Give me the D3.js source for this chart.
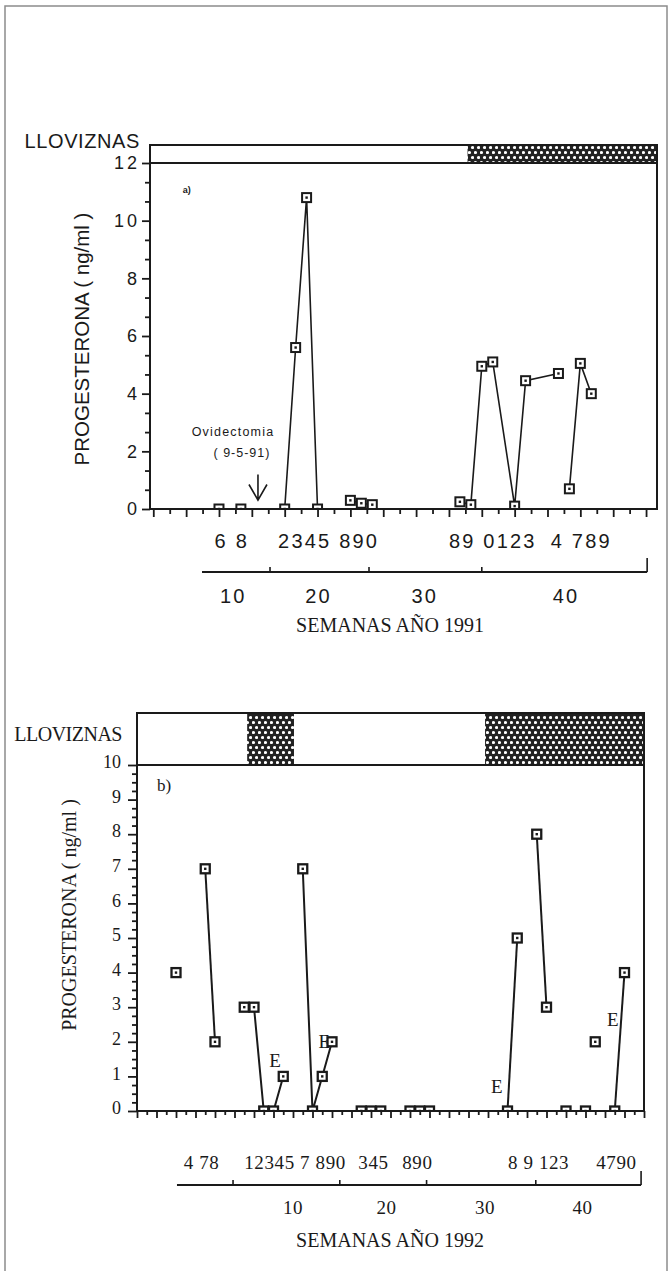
<!DOCTYPE html>
<html lang="es">
<head>
  <meta charset="UTF-8">
  <title>Progesterona 1991 - 1992</title>
  <script src="https://d3js.org/d3.v7.min.js"></script>
  <style>
    html, body {
      margin: 0;
      padding: 0;
      background: #fff;
      overflow: hidden;
    }
    svg {
      display: block;
    }
  </style>
</head>
<body>

<svg id="chart" width="670" height="1271"></svg>

<script>
  // ---- a) 1991 ----
  const weeksA = [16, 18, 22, 23, 24, 25, 28, 29, 30, 38, 39, 40, 41, 43, 44, 47, 48, 49, 50];
  const valuesA = [0, 0, 0, 5.6, 10.8, 0, 0.3, 0.2, 0.15, 0.25, 0.15, 4.95, 5.1, 0.1, 4.45, 4.7, 0.7, 5.05, 4.0];
  const groupsA = [1, 2, 3, 3, 3, 3, 4, 4, 4, 5, 5, 5, 5, 5, 5, 5, 6, 6, 6];
  const rainA = [[38.7, 56]];
  const yTicksA = [0, 2, 4, 6, 8, 10, 12];
  const weekLabelsA = ["6 8", "2345 890", "89 0123", "4 789"];
  const weekLabelPosA = [15.6, 21.4, 37.0, 46.3];
  const decadeBoundsA = [14.45, 20.66, 29.7, 40.0, 55.1];
  const decadeLabelsA = ["10", "20", "30", "40"];
  const decadePosA = [17.3, 25.1, 34.8, 47.7];

  // ---- b) 1992 ----
  const weeksB = [4, 7, 8, 11, 12, 13, 14, 15, 17, 18, 19, 20, 23, 24, 25, 28, 29, 30, 38, 39, 41, 42, 44, 46, 47, 49, 50];
  const valuesB = [4, 7, 2, 3, 3, 0, 0, 1, 7, 0, 1, 2, 0, 0, 0, 0, 0, 0, 0, 5, 8, 3, 0, 0, 2, 0, 4];
  const groupsB = [1, 2, 2, 3, 3, 3, 3, 3, 4, 4, 4, 4, 5, 5, 5, 6, 6, 6, 7, 7, 8, 8, 9, 10, 11, 12, 12];
  const rainB = [[11.3, 16.1], [35.7, 52]];
  const yTicksB = [0, 1, 2, 3, 4, 5, 6, 7, 8, 9, 10];
  const weekLabelsB = ["4 78", "12345 7 890", "345", "890", "8 9 123", "4790"];
  const weekLabelPosB = [4.8, 11.0, 22.7, 27.2, 38.05, 47.1];
  const decadeBoundsB = [4.1, 9.85, 20.8, 29.7, 40.9, 51.7];
  const decadeLabelsB = ["10", "20", "30", "40"];
  const decadePosB = [16.0, 25.6, 35.7, 45.7];
  // "E" marks
  const eWeeksB = [14.15, 19.2, 36.9, 48.8];
  const eValuesB = [1.45, 2.0, 0.72, 2.64];

  const ink = "#1a1a1a";
  const sans = "'Liberation Sans', Arial, Helvetica, sans-serif";
  const serif = "'Liberation Serif', 'Times New Roman', Times, serif";

  const svg = d3.select("#chart");
  const defs = svg.append("defs");

  // dotted fill of the rainy periods
  const pat = defs.append("pattern")
          .attr("id", "dots")
          .attr("patternUnits", "userSpaceOnUse")
          .attr("width", 6)
          .attr("height", 10);
  pat.append("rect").attr("width", 6).attr("height", 10).attr("fill", "#222");
  pat.append("circle").attr("cx", 1.5).attr("cy", 2.5).attr("r", 1.6).attr("fill", "#fff");
  pat.append("circle").attr("cx", 4.5).attr("cy", 7.5).attr("r", 1.6).attr("fill", "#fff");

  // page frame
  svg.append("rect")
          .attr("x", 5).attr("y", 6)
          .attr("width", 662).attr("height", 1300)
          .attr("fill", "none")
          .attr("stroke", "#8c8c8c")
          .attr("stroke-width", 1.5);

  function drawPanel(p) {
    const g = svg.append("g");
    const x = p.x, y = p.y;
    const [x0, x1] = x.range();
    const [yb, yt] = y.range();

    // LLOVIZNAS strip
    g.append("rect")
            .attr("x", x0).attr("y", p.headTop)
            .attr("width", x1 - x0).attr("height", yt - p.headTop)
            .attr("fill", "#fff");
    g.selectAll("rect.rain")
            .data(p.rain)
            .join("rect")
            .attr("class", "rain")
            .attr("x", d => x(d[0]))
            .attr("y", p.headTop)
            .attr("width", d => x(d[1]) - x(d[0]))
            .attr("height", yt - p.headTop)
            .attr("fill", "url(#dots)");
    g.append("rect")
            .attr("x", x0).attr("y", p.headTop)
            .attr("width", x1 - x0).attr("height", yt - p.headTop)
            .attr("fill", "none")
            .attr("stroke", ink)
            .attr("stroke-width", 2);
    g.append("text")
            .attr("x", x0 - p.headGap)
            .attr("y", p.headBase)
            .attr("text-anchor", "end")
            .attr("font-family", p.font)
            .attr("font-size", p.headFont)
            .attr("letter-spacing", p.headSpacing)
            .attr("fill", ink)
            .text("LLOVIZNAS");

    // data
    const clipId = "clip" + p.id;
    defs.append("clipPath").attr("id", clipId)
            .append("rect")
            .attr("x", x0).attr("y", yt)
            .attr("width", x1 - x0).attr("height", yb - yt);

    const rows = p.weeks.map((w, i) => ({w: w, v: p.values[i], grp: p.groups[i]}));
    const line = d3.line().x(d => x(d.w)).y(d => y(d.v));
    const plot = g.append("g").attr("clip-path", `url(#${clipId})`);

    plot.selectAll("path")
            .data(d3.groups(rows, d => d.grp).filter(d => d[1].length > 1))
            .join("path")
            .attr("d", d => line(d[1]))
            .attr("fill", "none")
            .attr("stroke", ink)
            .attr("stroke-width", p.lineW);

    const m = plot.selectAll("g.pt")
            .data(rows)
            .join("g")
            .attr("class", "pt")
            .attr("transform", d => `translate(${x(d.w)},${y(d.v)})`);
    m.append("rect")
            .attr("x", -4.5).attr("y", -4.5)
            .attr("width", 9).attr("height", 9)
            .attr("fill", "#fff")
            .attr("stroke", ink)
            .attr("stroke-width", p.markW);
    m.append("rect")
            .attr("x", -1.2).attr("y", -1.2)
            .attr("width", 2.4).attr("height", 2.4)
            .attr("fill", ink);

    // plot frame
    g.append("rect")
            .attr("x", x0).attr("y", yt)
            .attr("width", x1 - x0).attr("height", yb - yt)
            .attr("fill", "none")
            .attr("stroke", ink)
            .attr("stroke-width", 2);

    // y axis
    const ya = g.append("g")
            .attr("transform", `translate(${x0},0)`)
            .call(d3.axisLeft(y).tickValues(p.yTicks).tickSize(p.yMajor).tickPadding(p.yPad).tickFormat(d3.format("d")));
    const yMinor = d3.range(0, y.domain()[1] + 0.001, p.yMinorStep).filter(v => !p.yTicks.some(t => Math.abs(t - v) < 0.01));
    const ym = g.append("g")
            .attr("transform", `translate(${x0},0)`)
            .call(d3.axisLeft(y).tickValues(yMinor).tickSize(p.yMinor).tickFormat(""));
    [ya, ym].forEach(a => {
      a.select(".domain").remove();
      a.selectAll("line").attr("stroke", ink).attr("stroke-width", 1.8);
    });
    ya.selectAll("text")
            .attr("font-family", p.font)
            .attr("font-size", p.tickFont)
            .attr("letter-spacing", p.tickSpacing)
            .attr("dy", p.yLabelDy)
            .attr("fill", ink);

    // x axis ticks
    const xMajor = p.xTicks.filter((d, i) => i % 2 === 0);
    const xMinor = p.xTicks.filter((d, i) => i % 2 === 1);
    [[xMajor, p.xMajor], [xMinor, p.xMinor]].forEach(([vals, len]) => {
      const a = g.append("g")
              .attr("transform", `translate(0,${yb})`)
              .call(d3.axisBottom(x).tickValues(vals).tickSize(len).tickFormat(""));
      a.select(".domain").remove();
      a.selectAll("line").attr("stroke", ink).attr("stroke-width", 1.8);
    });

    // week numbers
    g.selectAll("text.wk")
            .data(p.weekLabels)
            .join("text")
            .attr("class", "wk")
            .attr("x", (d, i) => x(p.weekLabelPos[i]))
            .attr("y", p.wkBase)
            .attr("font-family", p.font)
            .attr("font-size", p.wkFont)
            .attr("letter-spacing", p.wkSpacing)
            .attr("fill", ink)
            .text(d => d);

    // decade bracket
    const bx = p.decadeBounds.map(x);
    g.append("line")
            .attr("x1", bx[0]).attr("x2", bx[bx.length - 1])
            .attr("y1", p.brY).attr("y2", p.brY)
            .attr("stroke", ink).attr("stroke-width", 1.8);
    g.selectAll("line.br")
            .data(bx.slice(1))
            .join("line")
            .attr("class", "br")
            .attr("x1", d => d).attr("x2", d => d)
            .attr("y1", p.brY)
            .attr("y2", (d, i) => i === bx.length - 2 ? p.brY - 14 : p.brY - 5)
            .attr("stroke", ink).attr("stroke-width", 1.6);
    g.selectAll("text.dec")
            .data(p.decadeLabels)
            .join("text")
            .attr("class", "dec")
            .attr("x", (d, i) => x(p.decadePos[i]))
            .attr("y", p.decBase)
            .attr("text-anchor", "middle")
            .attr("font-family", p.font)
            .attr("font-size", p.wkFont)
            .attr("letter-spacing", p.wkSpacing)
            .attr("fill", ink)
            .text(d => d);

    // titles
    g.append("text")
            .attr("x", p.titleX)
            .attr("y", p.titleBase)
            .attr("text-anchor", "middle")
            .attr("font-family", serif)
            .attr("font-size", 20)
            .attr("fill", ink)
            .text(p.title);
    g.append("text")
            .attr("transform", `translate(${p.yTitleX},${p.yTitleY}) rotate(-90)`)
            .attr("text-anchor", "middle")
            .attr("dominant-baseline", "central")
            .attr("font-family", p.font)
            .attr("font-size", p.yTitleFont)
            .attr("fill", ink)
            .text("PROGESTERONA ( ng/ml )");

    return g;
  }

  // ---------- panel a ----------
  const xA = d3.scaleLinear().domain([9.7, 56]).range([150, 657]);
  const yA = d3.scaleLinear().domain([0, 12]).range([509, 163]);
  const gA = drawPanel({
    id: "A", x: xA, y: yA, font: sans,
    weeks: weeksA, values: valuesA, groups: groupsA, rain: rainA,
    headTop: 145, headGap: 10, headBase: 148, headFont: 20, headSpacing: 0.6,
    lineW: 1.6, markW: 2,
    yTicks: yTicksA, yMinorStep: 2 / 3, yMajor: 8, yMinor: 5, yPad: 2,
    tickFont: 18, tickSpacing: 3, yLabelDy: "0.32em",
    xTicks: d3.range(10, 55.1, 1.5), xMajor: 8, xMinor: 5,
    weekLabels: weekLabelsA, weekLabelPos: weekLabelPosA, wkBase: 548, wkFont: 20, wkSpacing: 2.2,
    decadeBounds: decadeBoundsA, decadeLabels: decadeLabelsA, decadePos: decadePosA,
    brY: 572, decBase: 603,
    title: "SEMANAS AÑO 1991", titleX: 390, titleBase: 632,
    yTitleX: 81, yTitleY: 339, yTitleFont: 20.5
  });

  gA.append("text")
          .attr("x", xA(12.7)).attr("y", yA(10.96))
          .attr("font-family", sans).attr("font-size", 9).attr("font-weight", "bold")
          .attr("fill", ink)
          .text("a)");
  gA.append("text")
          .attr("x", xA(17.28)).attr("y", yA(2.7))
          .attr("dy", "0.35em")
          .attr("text-anchor", "middle")
          .attr("font-family", sans).attr("font-size", 12.5).attr("letter-spacing", 1.2)
          .attr("fill", ink)
          .text("Ovidectomia");
  gA.append("text")
          .attr("x", xA(18.1)).attr("y", yA(1.94))
          .attr("dy", "0.35em")
          .attr("text-anchor", "middle")
          .attr("font-family", sans).attr("font-size", 12.5).attr("letter-spacing", 1)
          .attr("fill", ink)
          .text("( 9-5-91)");
  const ax = xA(19.56);
  gA.append("path")
          .attr("d", `M${ax},${yA(1.2)}V${yA(0.31)}M${ax - 9},${yA(0.85)}L${ax},${yA(0.31)}L${ax + 9},${yA(0.85)}`)
          .attr("fill", "none")
          .attr("stroke", ink)
          .attr("stroke-width", 1.6);

  // ---------- panel b ----------
  const xB = d3.scaleLinear().domain([0, 52]).range([137, 644]);
  const yB = d3.scaleLinear().domain([0, 10]).range([1111, 765]);
  const gB = drawPanel({
    id: "B", x: xB, y: yB, font: serif,
    weeks: weeksB, values: valuesB, groups: groupsB, rain: rainB,
    headTop: 713, headGap: 15, headBase: 741, headFont: 20, headSpacing: -0.5,
    lineW: 2, markW: 2.3,
    yTicks: yTicksB, yMinorStep: 0.25, yMajor: 9, yMinor: 5, yPad: 7,
    tickFont: 18, tickSpacing: 0, yLabelDy: "0.15em",
    xTicks: d3.range(0, 52.1, 1), xMajor: 7, xMinor: 4,
    weekLabels: weekLabelsB, weekLabelPos: weekLabelPosB, wkBase: 1169, wkFont: 19, wkSpacing: 0.6,
    decadeBounds: decadeBoundsB, decadeLabels: decadeLabelsB, decadePos: decadePosB,
    brY: 1185, decBase: 1214,
    title: "SEMANAS AÑO 1992", titleX: 390, titleBase: 1247,
    yTitleX: 69, yTitleY: 915, yTitleFont: 20
  });

  gB.append("text")
          .attr("x", xB(2.05)).attr("y", yB(9.42))
          .attr("dy", "0.35em")
          .attr("font-family", serif).attr("font-size", 17)
          .attr("fill", ink)
          .text("b)");
  gB.selectAll("text.e")
          .data(eWeeksB)
          .join("text")
          .attr("class", "e")
          .attr("x", d => xB(d))
          .attr("y", (d, i) => yB(eValuesB[i]))
          .attr("dy", "0.35em")
          .attr("text-anchor", "middle")
          .attr("font-family", serif).attr("font-size", 19)
          .attr("fill", ink)
          .text("E");
</script>

</body>
</html>
